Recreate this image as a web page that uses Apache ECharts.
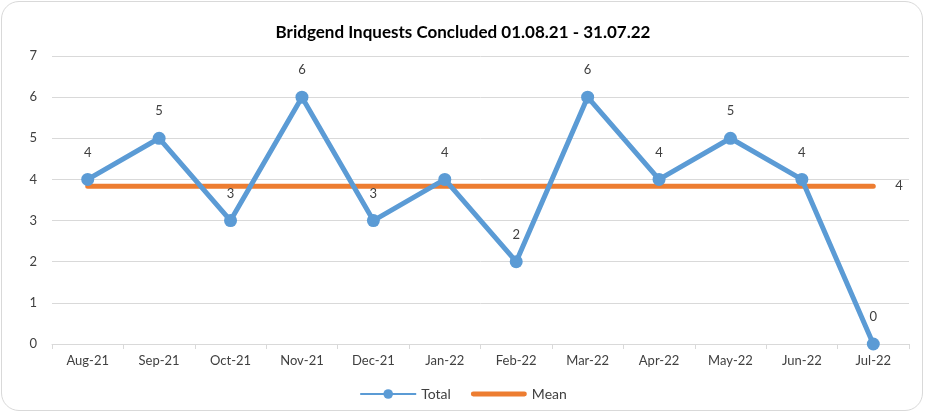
<!DOCTYPE html>
<html>
<head>
<meta charset="utf-8">
<script src="https://cdn.jsdelivr.net/npm/echarts@6/dist/echarts.min.js"></script>
<style>
  html, body { margin: 0; padding: 0; background: #fff; }
  #frame {
    position: absolute; left: 1px; top: 1px; width: 922px; height: 410px;
    border: 1px solid #d9d9d9; border-radius: 18px; box-sizing: border-box;
  }
  #chart { position: absolute; left: 0; top: 0; width: 926px; height: 414px; }
</style>
</head>
<body>
<div id="frame"></div>
<div id="chart"></div>
<script>
const months = ["Aug-21", "Sep-21", "Oct-21", "Nov-21", "Dec-21", "Jan-22",
  "Feb-22", "Mar-22", "Apr-22", "May-22", "Jun-22", "Jul-22"];
const totals = [4, 5, 3, 6, 3, 4, 2, 6, 4, 5, 4, 0];
const meanValue = 46 / 12;
const means = months.map(() => meanValue);

const textColor = "#404040";
const font = "Lato";

const chart = echarts.init(document.getElementById("chart"));
chart.setOption({
  animation: false,
  title: {
    text: "Bridgend Inquests Concluded 01.08.21 - 31.07.22",
    left: "center",
    top: 19,
    textStyle: { fontFamily: font, fontSize: 17, fontWeight: "bold", color: "#000" }
  },
  legend: {
    bottom: 8,
    left: "center",
    itemWidth: 56,
    itemHeight: 12,
    itemGap: 20,
    textStyle: { fontFamily: font, fontSize: 14, color: textColor },
    data: [
      "Total",
      { name: "Mean", icon: "path://M2,0 L54,0 A2.5,2.5 0 0 1 54,5 L2,5 A2.5,2.5 0 0 1 2,0 Z" }
    ]
  },
  grid: { left: 52, right: 17, top: 56, bottom: 70 },
  xAxis: {
    type: "category",
    data: months,
    boundaryGap: true,
    axisLine: { lineStyle: { color: "#d9d9d9" } },
    axisTick: { show: true, length: 5, lineStyle: { color: "#d9d9d9" } },
    axisLabel: { fontFamily: font, fontSize: 13, color: textColor, margin: 10 }
  },
  yAxis: {
    type: "value",
    min: 0,
    max: 7,
    interval: 1,
    axisLine: { show: false },
    axisTick: { show: false },
    splitLine: { lineStyle: { color: "#d9d9d9", width: 1 } },
    axisLabel: { fontFamily: font, fontSize: 13, color: textColor, margin: 15 }
  },
  series: [
    {
      name: "Mean",
      type: "line",
      data: means,
      symbol: "none",
      z: 2,
      lineStyle: { color: "#ed7d31", width: 5, cap: "round" },
      itemStyle: { color: "#ed7d31" },
      endLabel: {
        show: true,
        formatter: () => Math.round(meanValue).toString(),
        distance: 22,
        fontFamily: font,
        fontSize: 13,
        color: textColor
      }
    },
    {
      name: "Total",
      type: "line",
      data: totals,
      symbol: "circle",
      symbolSize: 13,
      z: 3,
      lineStyle: { color: "#5b9bd5", width: 5 },
      itemStyle: { color: "#5b9bd5" },
      label: {
        show: true,
        position: "top",
        distance: 14,
        fontFamily: font,
        fontSize: 13,
        color: textColor
      }
    }
  ]
});
</script>
</body>
</html>
